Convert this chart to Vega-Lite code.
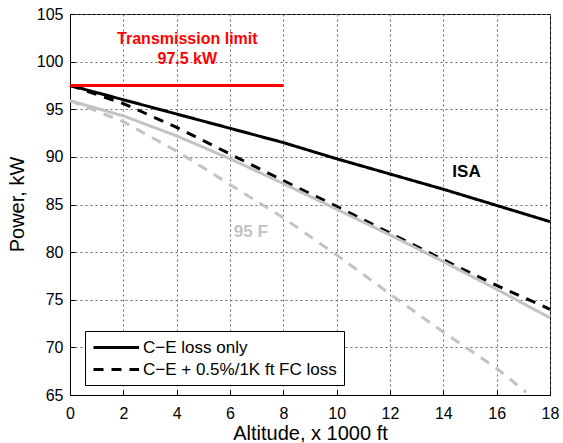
{
  "$schema": "https://vega.github.io/schema/vega-lite/v6.json",
  "width": 480,
  "height": 381,
  "autosize": {"type": "none"},
  "padding": {"left": 70, "top": 14, "right": 13, "bottom": 48},
  "background": "white",
  "config": {
    "font": "Liberation Sans",
    "view": {"stroke": "black", "strokeWidth": 1},
    "axis": {
      "domainColor": "black",
      "domainWidth": 1,
      "tickColor": "black",
      "tickSize": -5,
      "labelFont": "Liberation Sans",
      "labelFontSize": 16,
      "labelColor": "black",
      "titleFont": "Liberation Sans",
      "titleFontSize": 20,
      "titleFontWeight": "normal",
      "titleColor": "black"
    },
    "legend": {
      "orient": "none",
      "legendX": 15,
      "legendY": 317,
      "strokeColor": "black",
      "fillColor": "white",
      "padding": 7,
      "cornerRadius": 0,
      "symbolType": "M-1,0H4.7",
      "symbolSize": 256,
      "symbolStrokeWidth": 3,
      "symbolStrokeColor": "black",
      "labelFont": "Liberation Sans",
      "labelFontSize": 17,
      "labelColor": "black",
      "labelOffset": 32,
      "rowPadding": 4,
      "labelLimit": 400
    }
  },
  "layer": [
    {
      "data": {
        "values": [
          {"alt": 0, "power": 97.5, "cond": "ISA", "loss": "C−E loss only"},
          {"alt": 2, "power": 96.0, "cond": "ISA", "loss": "C−E loss only"},
          {"alt": 4, "power": 94.5, "cond": "ISA", "loss": "C−E loss only"},
          {"alt": 6, "power": 93.0, "cond": "ISA", "loss": "C−E loss only"},
          {"alt": 8, "power": 91.5, "cond": "ISA", "loss": "C−E loss only"},
          {"alt": 10, "power": 89.8, "cond": "ISA", "loss": "C−E loss only"},
          {"alt": 12, "power": 88.2, "cond": "ISA", "loss": "C−E loss only"},
          {"alt": 14, "power": 86.6, "cond": "ISA", "loss": "C−E loss only"},
          {"alt": 16, "power": 84.9, "cond": "ISA", "loss": "C−E loss only"},
          {"alt": 18, "power": 83.2, "cond": "ISA", "loss": "C−E loss only"},
          {"alt": 0, "power": 97.5, "cond": "ISA", "loss": "C−E + 0.5%/1K ft FC loss"},
          {"alt": 2, "power": 95.6, "cond": "ISA", "loss": "C−E + 0.5%/1K ft FC loss"},
          {"alt": 4, "power": 93.1, "cond": "ISA", "loss": "C−E + 0.5%/1K ft FC loss"},
          {"alt": 6, "power": 90.3, "cond": "ISA", "loss": "C−E + 0.5%/1K ft FC loss"},
          {"alt": 8, "power": 87.5, "cond": "ISA", "loss": "C−E + 0.5%/1K ft FC loss"},
          {"alt": 10, "power": 84.8, "cond": "ISA", "loss": "C−E + 0.5%/1K ft FC loss"},
          {"alt": 12, "power": 82.0, "cond": "ISA", "loss": "C−E + 0.5%/1K ft FC loss"},
          {"alt": 14, "power": 79.2, "cond": "ISA", "loss": "C−E + 0.5%/1K ft FC loss"},
          {"alt": 16, "power": 76.5, "cond": "ISA", "loss": "C−E + 0.5%/1K ft FC loss"},
          {"alt": 18, "power": 74.0, "cond": "ISA", "loss": "C−E + 0.5%/1K ft FC loss"},
          {"alt": 0, "power": 95.9, "cond": "95 F", "loss": "C−E loss only"},
          {"alt": 2, "power": 94.3, "cond": "95 F", "loss": "C−E loss only"},
          {"alt": 4, "power": 92.2, "cond": "95 F", "loss": "C−E loss only"},
          {"alt": 6, "power": 89.8, "cond": "95 F", "loss": "C−E loss only"},
          {"alt": 8, "power": 87.2, "cond": "95 F", "loss": "C−E loss only"},
          {"alt": 10, "power": 84.5, "cond": "95 F", "loss": "C−E loss only"},
          {"alt": 12, "power": 81.8, "cond": "95 F", "loss": "C−E loss only"},
          {"alt": 14, "power": 79.0, "cond": "95 F", "loss": "C−E loss only"},
          {"alt": 16, "power": 76.1, "cond": "95 F", "loss": "C−E loss only"},
          {"alt": 18, "power": 73.1, "cond": "95 F", "loss": "C−E loss only"},
          {"alt": 0, "power": 95.9, "cond": "95 F", "loss": "C−E + 0.5%/1K ft FC loss"},
          {"alt": 2, "power": 93.7, "cond": "95 F", "loss": "C−E + 0.5%/1K ft FC loss"},
          {"alt": 4, "power": 90.6, "cond": "95 F", "loss": "C−E + 0.5%/1K ft FC loss"},
          {"alt": 6, "power": 87.1, "cond": "95 F", "loss": "C−E + 0.5%/1K ft FC loss"},
          {"alt": 8, "power": 83.6, "cond": "95 F", "loss": "C−E + 0.5%/1K ft FC loss"},
          {"alt": 10, "power": 79.7, "cond": "95 F", "loss": "C−E + 0.5%/1K ft FC loss"},
          {"alt": 12, "power": 75.6, "cond": "95 F", "loss": "C−E + 0.5%/1K ft FC loss"},
          {"alt": 14, "power": 71.6, "cond": "95 F", "loss": "C−E + 0.5%/1K ft FC loss"},
          {"alt": 16, "power": 67.8, "cond": "95 F", "loss": "C−E + 0.5%/1K ft FC loss"},
          {"alt": 17.1, "power": 65.3, "cond": "95 F", "loss": "C−E + 0.5%/1K ft FC loss"}
        ]
      },
      "mark": {"type": "line", "strokeWidth": 3},
      "encoding": {
        "x": {
          "field": "alt", "type": "quantitative",
          "scale": {"domain": [0, 18], "nice": false, "zero": false},
          "axis": {"title": "Altitude, x 1000 ft", "values": [0, 2, 4, 6, 8, 10, 12, 14, 16, 18], "grid": true, "gridColor": "#666666", "gridOpacity": 1, "gridDash": [2, 3], "gridWidth": 1, "labelPadding": 15, "titleY": 44, "titleBaseline": "alphabetic", "labelFlush": false, "labelOverlap": false}
        },
        "y": {
          "field": "power", "type": "quantitative",
          "scale": {"domain": [65, 105], "nice": false, "zero": false},
          "axis": {"title": "Power, kW", "values": [65, 70, 75, 80, 85, 90, 95, 100, 105], "grid": true, "gridColor": "#666666", "gridOpacity": 1, "gridDash": [2, 3], "gridWidth": 1, "labelPadding": 12, "titleX": -53, "titleY": 190, "titleAngle": -90, "titleAlign": "center", "titleBaseline": "middle", "labelFlush": false, "labelOverlap": false}
        },
        "color": {
          "field": "cond", "type": "nominal",
          "scale": {"domain": ["ISA", "95 F"], "range": ["#000000", "#c3c3c3"]},
          "legend": null
        },
        "strokeDash": {
          "field": "loss", "type": "nominal",
          "scale": {"domain": ["C−E loss only", "C−E + 0.5%/1K ft FC loss"], "range": [[1, 0], [10, 8]]},
          "legend": {"title": null}
        },
        "detail": {"field": "cond"}
      }
    },
    {
      "data": {"values": [{"x": 0, "x2": 8, "y": 97.5}]},
      "mark": {"type": "rule", "color": "#ff0000", "strokeWidth": 3},
      "encoding": {
        "x": {"field": "x", "type": "quantitative"},
        "x2": {"field": "x2"},
        "y": {"field": "y", "type": "quantitative"}
      }
    },
    {
      "data": {"values": [
        {"x": 4.4, "y": 101.8, "label": "Transmission limit"},
        {"x": 4.4, "y": 99.8, "label": "97.5 kW"}
      ]},
      "mark": {"type": "text", "color": "#ff0000", "fontWeight": "bold", "fontSize": 16, "font": "Liberation Sans", "align": "center", "baseline": "alphabetic"},
      "encoding": {
        "x": {"field": "x", "type": "quantitative"},
        "y": {"field": "y", "type": "quantitative"},
        "text": {"field": "label"}
      }
    },
    {
      "data": {"values": [
        {"x": 14.87, "y": 87.9, "label": "ISA", "cond": "ISA"},
        {"x": 6.78, "y": 81.6, "label": "95 F", "cond": "95 F"}
      ]},
      "mark": {"type": "text", "fontWeight": "bold", "fontSize": 17, "font": "Liberation Sans", "align": "center", "baseline": "alphabetic"},
      "encoding": {
        "x": {"field": "x", "type": "quantitative"},
        "y": {"field": "y", "type": "quantitative"},
        "text": {"field": "label"},
        "color": {"field": "cond", "type": "nominal", "legend": null}
      }
    }
  ]
}
